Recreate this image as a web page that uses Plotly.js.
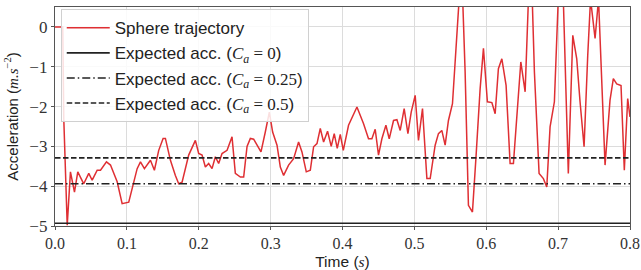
<!DOCTYPE html>
<html><head><meta charset="utf-8">
<script src="https://cdn.plot.ly/plotly-3.0.1.min.js"></script>
<style>body{margin:0;background:#fff}#c{width:641px;height:270px}</style>
</head><body><div id="c"></div>
<script>
const timeS = [0,0.0108,0.0122,0.0170,0.0215,0.0271,0.0317,0.0400,0.0470,0.0517,0.0587,0.0633,0.0716,0.0772,0.0865,0.0934,0.1026,0.1087,0.1143,0.1189,0.1244,0.1328,0.1383,0.1443,0.1504,0.1536,0.1606,0.1675,0.1721,0.1768,0.1860,0.1953,0.1999,0.2046,0.2092,0.2138,0.2185,0.2231,0.2277,0.2324,0.2394,0.2463,0.2509,0.2579,0.2625,0.2672,0.2718,0.2764,0.2866,0.2926,0.2982,0.3028,0.3089,0.3135,0.3181,0.3250,0.3320,0.3389,0.3436,0.3496,0.3552,0.3598,0.3645,0.3691,0.3737,0.3792,0.3843,0.3885,0.3927,0.3969,0.4011,0.4084,0.4201,0.4293,0.4362,0.4409,0.4455,0.4501,0.4548,0.4604,0.4650,0.4710,0.4757,0.4803,0.4858,0.4910,0.4956,0.5011,0.5057,0.5113,0.5174,0.5220,0.5289,0.5335,0.5382,0.5428,0.5474,0.5530,0.5581,0.5630,0.5672,0.5706,0.5752,0.5808,0.5859,0.5915,0.5961,0.6016,0.6078,0.6124,0.6169,0.6217,0.6276,0.6332,0.6378,0.6434,0.6481,0.6541,0.6589,0.6638,0.6670,0.6735,0.6795,0.6842,0.6888,0.6948,0.7006,0.7069,0.7142,0.7204,0.7259,0.7305,0.7361,0.7412,0.7451,0.7514,0.7562,0.7653,0.7722,0.7768,0.7815,0.7875,0.7921,0.7968,0.8];
const sphereAcc = [0,0,-2.3,-4.98,-3.64,-4.15,-3.64,-3.94,-3.68,-3.85,-3.6,-3.6,-3.39,-3.47,-3.89,-4.44,-4.4,-3.94,-3.56,-3.39,-3.56,-3.35,-3.6,-3.1,-2.8,-2.8,-3.35,-3.73,-3.94,-3.9,-3.22,-2.85,-3.18,-3.22,-3.52,-3.43,-3.56,-3.26,-3.43,-3.18,-3.1,-2.76,-3.68,-3.77,-3.77,-3.0,-2.8,-2.82,-3.14,-2.64,-2.14,-2.64,-2.97,-3.52,-3.73,-3.47,-3.31,-2.89,-3.14,-3.64,-3.6,-3.01,-2.93,-2.55,-2.89,-2.62,-3.0,-2.68,-3.05,-2.7,-3.1,-2.47,-2.01,-2.43,-2.81,-2.81,-2.57,-3.22,-2.81,-2.47,-2.81,-2.35,-2.33,-2.6,-2.05,-2.68,-2.14,-1.72,-2.85,-2.05,-3.81,-3.81,-2.97,-2.68,-2.6,-2.97,-2.35,-1.93,-0.46,0.9,0.7,-1.13,-4.48,-4.65,-3.22,-1.55,-0.54,-1.88,-1.9,-2.18,-1.05,-0.8,-1.47,-3.43,-3.43,-1.97,-0.88,-1.63,0.8,0.8,-1.13,-3.68,-3.81,-4.02,-2.51,-1.88,0.9,0.9,-3.68,-0.21,-0.8,-1.88,-3.01,-0.71,0.7,-0.29,0.7,-3.47,-1.84,-1.3,-1.43,-1.47,-3.6,-1.8,-2.26];
const lineT = [0, 0.8];
const expAcc0 = [-4.93, -4.93];
const expAcc025 = [-3.94, -3.94];
const expAcc05 = [-3.29, -3.29];
const xTicks = [0,0.1,0.2,0.3,0.4,0.5,0.6,0.7,0.8];
const yTicks = [-5,-4,-3,-2,-1,0];

const serif = "'Liberation Serif','DejaVu Serif',serif";
const sans = "'Liberation Sans',Arial,sans-serif";
const ca = v => 'Expected acc. (<span style="font-family:Liberation Serif"><i>C</i><sub><i>a</i></sub> = ' + v + '</span>)';

const traces = [
  {x: timeS, y: sphereAcc, mode:'lines', name:'Sphere trajectory', line:{color:'#df2f33', width:1.5}},
  {x: lineT, y: expAcc0, mode:'lines', name: ca('0'), line:{color:'#222', width:1.6}},
  {x: lineT, y: expAcc025, mode:'lines', name: ca('0.25'), line:{color:'#222', width:1.6, dash:'8px,3px,1.5px,3px'}},
  {x: lineT, y: expAcc05, mode:'lines', name: ca('0.5'), line:{color:'#222', width:1.6, dash:'5.5px,2.5px'}}
];
const axisCommon = {showline:true, mirror:true, linecolor:'#555', linewidth:1.2, gridcolor:'#dcdcdc', gridwidth:1, ticks:'outside', ticklen:3, tickcolor:'#555', zeroline:false, tickfont:{family:serif, size:16, color:'#333'}};
const layout = {
  width:641, height:270,
  margin:{l:55, r:11, t:7, b:44},
  paper_bgcolor:'#fff', plot_bgcolor:'#fff',
  showlegend:true,
  legend:{x:0.01, y:0.99, xanchor:'left', yanchor:'top', itemwidth:43, bgcolor:'rgba(255,255,255,0.85)', bordercolor:'#d0d0d0', borderwidth:1, font:{family:sans, size:17, color:'#222'}, tracegroupgap:0},
  xaxis: Object.assign({}, axisCommon, {range:[0,0.8], tickvals:xTicks, tickformat:'.1f', title:{text:'Time (<span style="font-family:Liberation Serif"><i>s</i></span>)', font:{family:sans, size:15.5, color:'#222'}, standoff:9}}),
  yaxis: Object.assign({}, axisCommon, {range:[-5,0.5], tickvals:yTicks, tickformat:'d', tickfont:{family:serif, size:17, color:'#333'}, title:{text:'Acceleration (<span style="font-family:Liberation Serif"><i>m.s</i><sup>−2</sup></span>)', font:{family:sans, size:15, color:'#222'}, standoff:7}})
};
Plotly.newPlot('c', traces, layout, {displayModeBar:false, staticPlot:true});
</script></body></html>
